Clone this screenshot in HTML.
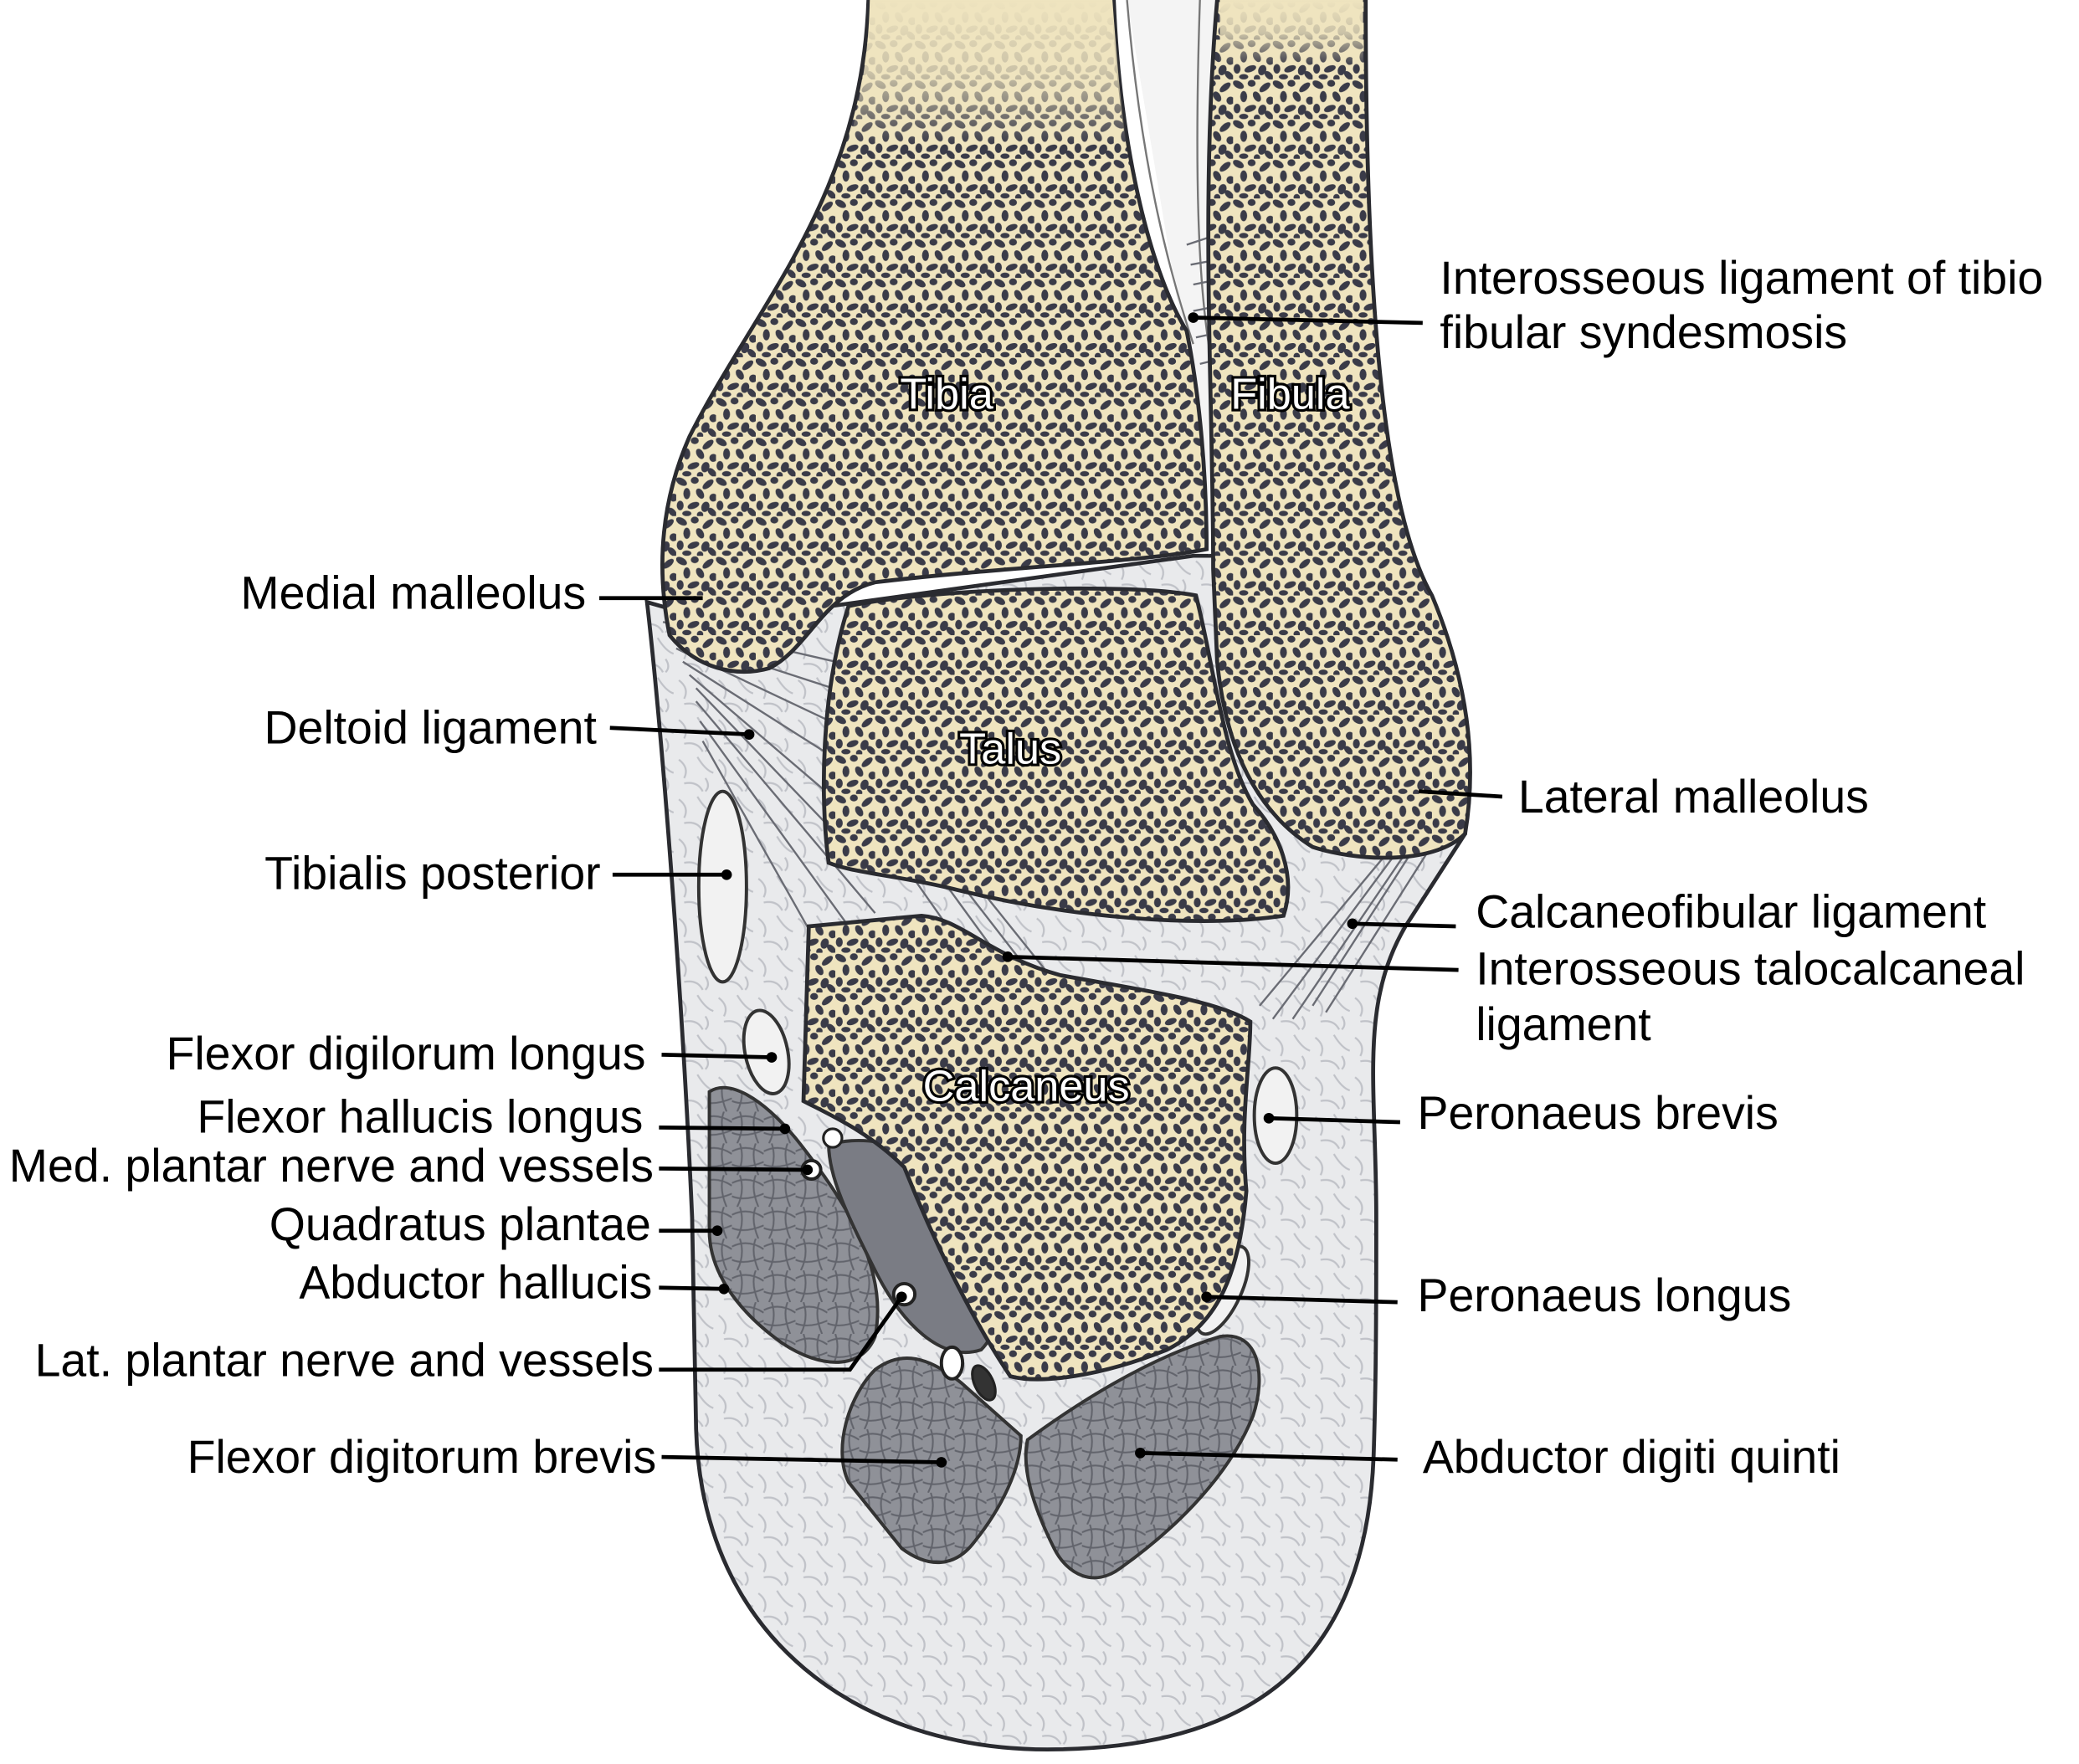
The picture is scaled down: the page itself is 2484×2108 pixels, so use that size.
<!DOCTYPE html>
<html><head><meta charset="utf-8"><style>
html,body{margin:0;padding:0;background:#fff}
svg{display:block}
text{font-family:"Liberation Sans",Arial,sans-serif}
</style></head><body>
<svg width="2484" height="2108" viewBox="0 0 1568 1333" preserveAspectRatio="none" xmlns="http://www.w3.org/2000/svg">
<defs>
<pattern id="sp" width="30" height="30" patternUnits="userSpaceOnUse">
<rect width="30" height="30" fill="#efe4bf"/>
<g fill="#3a3b48">
<ellipse cx="4" cy="4" rx="4.5" ry="2.6" transform="rotate(30 4 4)"/>
<ellipse cx="14" cy="3" rx="3" ry="2.6"/>
<ellipse cx="24" cy="6" rx="5" ry="2.4" transform="rotate(-40 24 6)"/>
<ellipse cx="8" cy="13" rx="2.6" ry="4.2"/>
<ellipse cx="18" cy="13" rx="4.2" ry="2.6" transform="rotate(60 18 13)"/>
<ellipse cx="28" cy="16" rx="3" ry="3"/>
<ellipse cx="3" cy="22" rx="2.6" ry="3.6"/>
<ellipse cx="13" cy="22" rx="4.6" ry="2.4" transform="rotate(-20 13 22)"/>
<ellipse cx="22" cy="23" rx="3" ry="4" transform="rotate(20 22 23)"/>
<ellipse cx="8" cy="28" rx="3.5" ry="2"/>
<ellipse cx="18" cy="29" rx="2.4" ry="2.4"/>
<ellipse cx="27" cy="27" rx="4" ry="2.4" transform="rotate(45 27 27)"/>
</g>
</pattern>
<pattern id="gr" width="30" height="30" patternUnits="userSpaceOnUse">
<rect width="30" height="30" fill="#e9eaec"/>
<path d="M2 4 q8 6 4 14 M16 2 q6 10 12 12 M6 22 q10 -2 14 6 M22 18 q4 6 0 10" stroke="#c0c2c8" stroke-width="1.4" fill="none"/>
</pattern>
<pattern id="mu" width="24" height="24" patternUnits="userSpaceOnUse">
<rect width="24" height="24" fill="#8f9198"/>
<path d="M0 6 q12 -6 24 2 M0 16 q10 4 24 -2 M6 0 q4 12 -2 24 M18 0 q-4 10 2 24" stroke="#62646c" stroke-width="1.3" fill="none"/>
</pattern>
<linearGradient id="fade" x1="0" y1="0" x2="0" y2="1">
<stop offset="0" stop-color="#efe4bf" stop-opacity="1"/>
<stop offset="0.5" stop-color="#efe4bf" stop-opacity="0.8"/>
<stop offset="1" stop-color="#efe4bf" stop-opacity="0"/>
</linearGradient>
</defs>
<rect width="1568" height="1333" fill="#fff"/>
<!-- soft tissue/outer foot -->
<path d="M488,455 C500,560 515,760 522,920 L525,1080 C530,1240 650,1322 790,1322 C940,1322 1030,1260 1036,1100 C1038,1040 1038,980 1038,920 C1038,820 1025,760 1060,700 L1105,630 L1060,420 L900,420 L540,470 Z" fill="url(#gr)" stroke="#2a2b30" stroke-width="3"/>
<path d="M850,0 L918,0 L912,420 L900,300 Z" fill="#f4f4f4"/>
<path d="M850,0 C860,120 880,200 900,260 M905,0 C900,150 905,230 915,280" stroke="#777" stroke-width="1.5" fill="none"/>
<!-- ligament fibres -->
<g stroke="#6a6c74" stroke-width="1.5" fill="none">
<path d="M500,470 L630,500 M505,480 L628,520 M510,490 L626,545 M515,500 L625,570 M520,510 L625,600 M525,520 L640,640 M525,530 L660,690 M528,545 L640,700 M530,560 L620,720"/>
<path d="M1080,620 L990,760 M1070,630 L975,770 M1060,635 L960,770 M1050,640 L950,760 M1095,615 L1000,765"/>
<path d="M700,650 L780,760 M715,655 L800,765 M730,660 L810,760 M690,665 L760,765"/>
<path d="M895,185 L925,175 M898,200 L925,195 M900,215 L925,210 M900,235 L925,230 M902,255 L925,250 M905,275 L925,270"/>
</g>
<!-- tendon sheaths -->
<ellipse cx="545" cy="670" rx="18" ry="72" fill="#f2f2f2" stroke="#333" stroke-width="2.5"/>
<ellipse cx="578" cy="795" rx="16" ry="32" fill="#f2f2f2" stroke="#333" stroke-width="2.5" transform="rotate(-12 578 795)"/>
<ellipse cx="962" cy="843" rx="16" ry="36" fill="#f2f2f2" stroke="#333" stroke-width="2.5"/>
<ellipse cx="922" cy="975" rx="14" ry="36" fill="#f2f2f2" stroke="#333" stroke-width="2.5" transform="rotate(25 922 975)"/>
<!-- muscles -->
<path d="M535,825 C550,815 575,830 600,860 C640,910 670,960 660,1010 C650,1035 620,1035 590,1015 C555,990 535,960 535,930 Z" fill="url(#mu)" stroke="#333" stroke-width="2.5"/>
<path d="M625,865 C660,855 700,870 730,900 C760,950 760,1000 740,1020 C710,1030 680,1000 660,960 C640,920 625,890 625,865 Z" fill="#7a7c84" stroke="#333" stroke-width="2.5"/>
<path d="M660,1035 C680,1020 700,1025 725,1045 L770,1085 C770,1110 755,1140 735,1165 C720,1185 700,1185 680,1170 L640,1120 C628,1095 640,1055 660,1035 Z" fill="url(#mu)" stroke="#333" stroke-width="2.5"/>
<path d="M775,1088 C820,1055 870,1025 920,1010 C950,1005 955,1040 945,1070 C925,1120 880,1160 845,1185 C825,1200 805,1190 795,1170 C780,1140 770,1110 775,1088 Z" fill="url(#mu)" stroke="#333" stroke-width="2.5"/>
<circle cx="612" cy="884" r="7" fill="#fff" stroke="#222" stroke-width="2.5"/>
<circle cx="628" cy="860" r="7" fill="#fff" stroke="#222" stroke-width="2"/>
<circle cx="682" cy="978" r="8" fill="#fff" stroke="#222" stroke-width="2.5"/>
<ellipse cx="718" cy="1030" rx="8" ry="12" fill="#fff" stroke="#222" stroke-width="2.5"/>
<ellipse cx="742" cy="1045" rx="7" ry="14" fill="#333" stroke="#222" stroke-width="2" transform="rotate(-25 742 1045)"/>
<!-- bones -->
<path d="M655,0 L840,0 C845,120 870,210 895,250 C905,300 910,360 910,415 C860,425 760,428 660,440 C620,450 610,490 580,505 C555,512 525,505 505,480 C495,430 498,380 520,330 C570,230 650,150 655,0 Z" fill="url(#sp)" stroke="#2a2b30" stroke-width="3"/>
<path d="M918,0 L1030,0 C1030,200 1040,380 1080,450 C1105,510 1115,570 1105,630 C1080,655 1020,650 990,640 C950,615 925,570 918,500 L915,430 C915,300 905,150 918,0 Z" fill="url(#sp)" stroke="#2a2b30" stroke-width="3"/>
<path d="M640,458 C700,445 850,440 902,450 C915,500 922,570 945,608 C965,630 978,662 968,692 C900,702 800,692 720,672 C680,662 645,660 625,652 C618,600 620,520 640,458 Z" fill="url(#sp)" stroke="#2a2b30" stroke-width="3"/>
<path d="M610,700 L695,692 C725,694 745,722 800,737 C860,748 918,756 943,772 C943,805 935,845 940,900 C935,960 920,1000 880,1020 C830,1040 785,1046 762,1040 C735,1000 705,940 682,882 C655,855 625,842 606,832 Z" fill="url(#sp)" stroke="#2a2b30" stroke-width="3"/>
<path d="M656,0 L839,0 C842,40 845,80 850,110 L640,110 C650,70 655,40 656,0 Z" fill="url(#fade)"/>
<rect x="920" y="0" width="108" height="50" fill="url(#fade)"/>
<!-- bone labels -->
<g font-size="33" fill="#fff" stroke="#000" stroke-width="4" paint-order="stroke" text-anchor="middle">
<text x="714" y="309">Tibia</text><text x="973" y="309">Fibula</text>
<text x="762" y="577">Talus</text><text x="774" y="832">Calcaneus</text>
</g>
<!-- leaders -->
<g stroke="#000" stroke-width="3" fill="none">
<path d="M900,240 L1073,244"/><path d="M452,452 L530,452"/><path d="M460,550 L565,555"/>
<path d="M1070,598 L1133,602"/><path d="M462,661 L548,661"/><path d="M1020,698 L1098,700"/>
<path d="M760,723 L1100,733"/><path d="M499,797 L582,799"/><path d="M957,845 L1056,848"/>
<path d="M497,852 L592,853"/><path d="M497,883 L609,884"/><path d="M497,930 L541,930"/>
<path d="M497,973 L546,974"/><path d="M910,980 L1054,984"/><path d="M497,1035 L641,1035 L680,980"/>
<path d="M499,1101 L710,1105"/><path d="M860,1098 L1054,1103"/>
</g>
<g fill="#000">
<circle cx="900" cy="240" r="4"/><circle cx="565" cy="555" r="4"/><circle cx="548" cy="661" r="4"/>
<circle cx="1020" cy="698" r="4"/><circle cx="760" cy="723" r="4"/><circle cx="582" cy="799" r="4"/>
<circle cx="957" cy="845" r="4"/><circle cx="592" cy="853" r="4"/><circle cx="609" cy="884" r="4"/>
<circle cx="541" cy="930" r="4"/><circle cx="546" cy="974" r="4"/><circle cx="910" cy="980" r="4"/>
<circle cx="680" cy="980" r="4"/><circle cx="710" cy="1105" r="4"/><circle cx="860" cy="1098" r="4"/>
</g>
<g font-size="35" fill="#000">
<text x="1086" y="222">Interosseous ligament of tibio</text>
<text x="1086" y="263">fibular syndesmosis</text>
<text x="1145" y="614">Lateral malleolus</text>
<text x="1113" y="701">Calcaneofibular ligament</text>
<text x="1113" y="744">Interosseous talocalcaneal</text>
<text x="1113" y="786">ligament</text>
<text x="1069" y="853">Peronaeus brevis</text>
<text x="1069" y="991">Peronaeus longus</text>
<text x="1073" y="1113">Abductor digiti quinti</text>
</g>
<g font-size="35" fill="#000" text-anchor="end">
<text x="442" y="460">Medial malleolus</text>
<text x="450" y="562">Deltoid ligament</text>
<text x="453" y="672">Tibialis posterior</text>
<text x="487" y="808">Flexor digilorum longus</text>
<text x="485" y="856">Flexor hallucis longus</text>
<text x="493" y="893">Med. plantar nerve and vessels</text>
<text x="491" y="937">Quadratus plantae</text>
<text x="492" y="981">Abductor hallucis</text>
<text x="493" y="1040">Lat. plantar nerve and vessels</text>
<text x="495" y="1113">Flexor digitorum brevis</text>
</g>
</svg>
</body></html>
